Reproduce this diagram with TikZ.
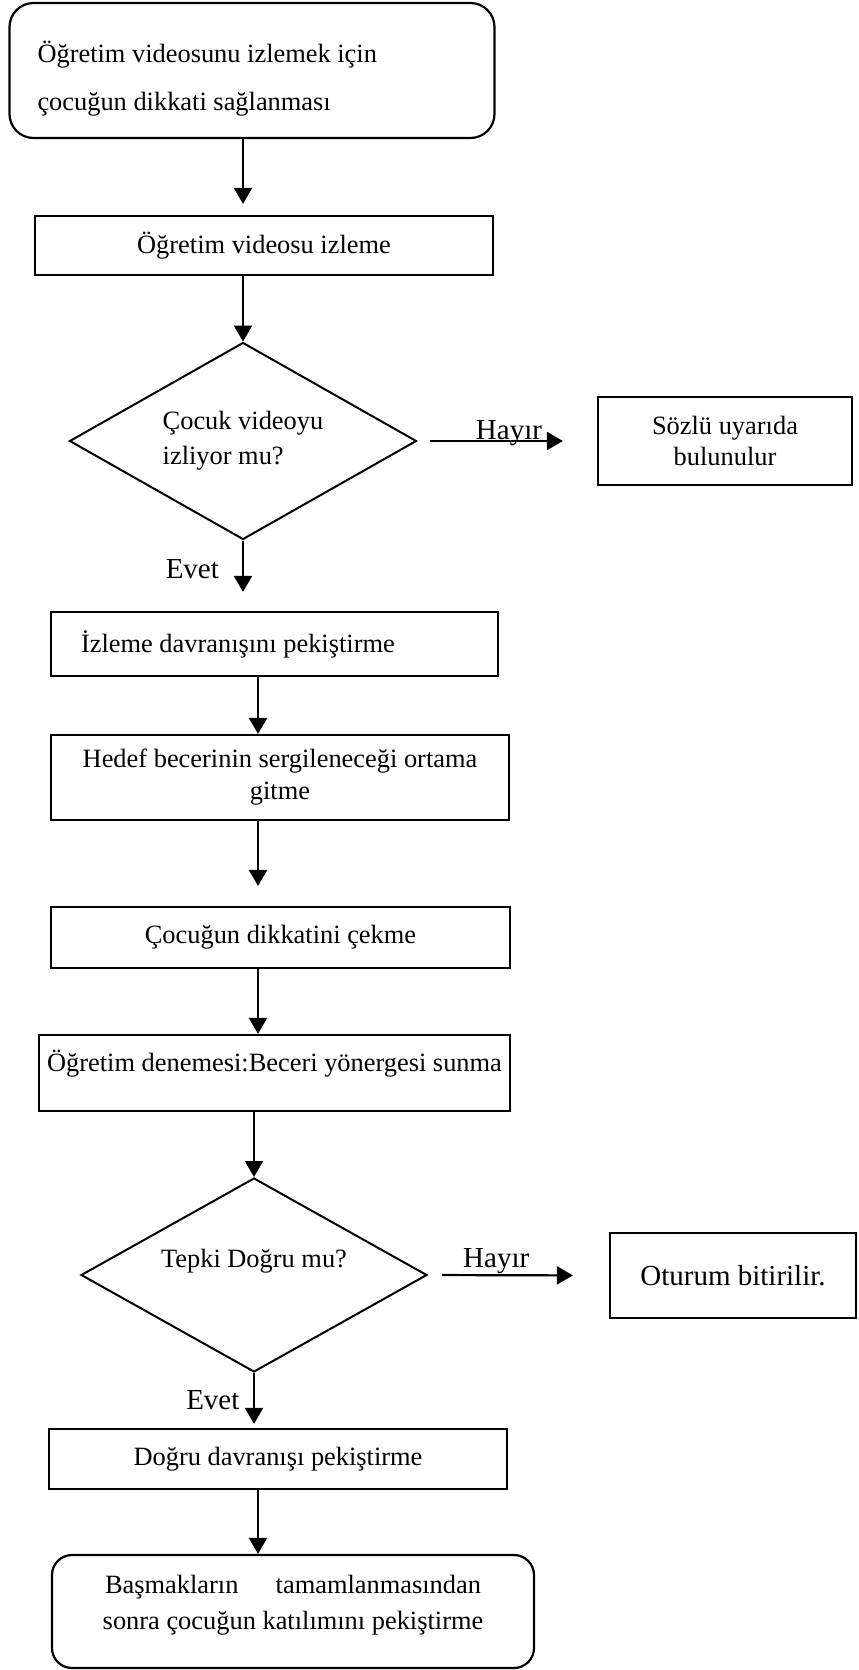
\documentclass[tikz,border=0pt]{standalone}
\usepackage{fontspec}
\setmainfont{Liberation Serif}
\usetikzlibrary{shapes.geometric,arrows.meta}

\begin{document}
\begin{tikzpicture}[x=0.5pt,y=-0.5pt,font=\fontsize{13.2}{16}\selectfont,
  kutu/.style={draw,line width=1.1pt,inner sep=0pt},
  yuvarlak/.style={kutu,rounded corners=12pt},
  karar/.style={draw,diamond,aspect=1.8,line width=1pt,inner sep=0pt},
  ok/.style={line width=1.1pt,-{Triangle[length=8pt,width=9pt]}},
  etiket/.style={font=\fontsize{14.5}{16}\selectfont,inner sep=1pt}]

\useasboundingbox (0,0) rectangle (858,1670);

% kutular
\node[yuvarlak,minimum width=242.5pt,minimum height=67.5pt,text width=214.5pt,inner xsep=14pt,align=flush left,font=\fontsize{13.2}{24}\selectfont] (basla) at (252,70.5) {\rule{0pt}{18.5pt}Öğretim videosunu izlemek için\\çocuğun dikkati sağlanması};
\node[kutu,minimum width=229pt,minimum height=29.5pt] (izle) at (264,245.5) {Öğretim videosu izleme};
\node[karar,minimum width=173.5pt,minimum height=98.5pt,align=left,font=\fontsize{13.2}{17.5}\selectfont] (soru1) at (243,441) {Çocuk videoyu\\izliyor mu?};
\node[kutu,minimum width=127pt,minimum height=44pt,align=center,font=\fontsize{13.2}{15.5}\selectfont] (uyari) at (725,441) {Sözlü uyarıda\\bulunulur};
\node[kutu,minimum width=223.5pt,minimum height=32pt,text width=193.5pt,inner xsep=15pt,align=flush left] (izpek) at (274.5,644) {İzleme davranışını pekiştirme};
\node[kutu,minimum width=229pt,minimum height=42.5pt,align=center] (hedef) at (280,777.5) {Hedef becerinin sergileneceği ortama\\gitme};
\node[kutu,minimum width=229.5pt,minimum height=30.5pt] (dikkat) at (280.5,937.5) {Çocuğun dikkatini çekme};
\node[kutu,minimum width=235.5pt,minimum height=38pt,text height=11pt,text depth=13pt] (deneme) at (274.5,1073) {Öğretim denemesi:Beceri yönergesi sunma};
\node[karar,minimum width=173pt,minimum height=97pt,text height=9pt,text depth=17pt] (soru2) at (254,1275) {Tepki Doğru mu?};
\node[kutu,minimum width=123pt,minimum height=42.5pt,font=\fontsize{14.5}{17}\selectfont] (bitir) at (733,1275.5) {Oturum bitirilir.};
\node[kutu,minimum width=229pt,minimum height=30pt] (dogru) at (278,1459) {Doğru davranışı pekiştirme};
\node[yuvarlak,rounded corners=10pt,minimum width=241pt,minimum height=56.5pt,align=center,font=\fontsize{13.2}{18}\selectfont] (son) at (293,1611.5) {\makebox[188pt][s]{Başmakların tamamlanmasından}\\sonra çocuğun katılımını pekiştirme\rule[-9pt]{0pt}{9pt}};

% oklar
\coordinate (eksen) at (258,0);
\draw[ok,shorten >=5.5pt] (basla.south -| soru1.north) -- (izle.north -| soru1.north);
\draw[ok] (izle.south -| soru1.north) -- (soru1.north);
\draw[ok,shorten >=9.5pt] (soru1.south) -- (izpek.north -| soru1.south) node[etiket,left=10.5pt,pos=0.4] (evet1) {Evet};
\draw[ok,shorten <=6.25pt,shorten >=17pt] (soru1.east) -- (uyari.west) node[etiket,anchor=base,pos=0.51,yshift=1pt] (hayir1) {Hayır};

\foreach \ust/\alt in {izpek/hedef,dikkat/deneme,dogru/son}
  \draw[ok] (\ust.south -| eksen) -- (\alt.north -| eksen);
\draw[ok,shorten >=10pt] (hedef.south -| eksen) -- (dikkat.north -| eksen);

\draw[ok] (deneme.south -| soru2.north) -- (soru2.north);
\draw[ok,shorten <=7pt,shorten >=18pt] (soru2.east) -- (bitir.west) node[etiket,anchor=base,pos=0.377,yshift=4pt] (hayir2) {Hayır};
\draw[ok,shorten >=2pt] (soru2.south) -- (dogru.north -| soru2.south) node[etiket,left=5.75pt,pos=0.5] (evet2) {Evet};
\end{tikzpicture}
\end{document}
